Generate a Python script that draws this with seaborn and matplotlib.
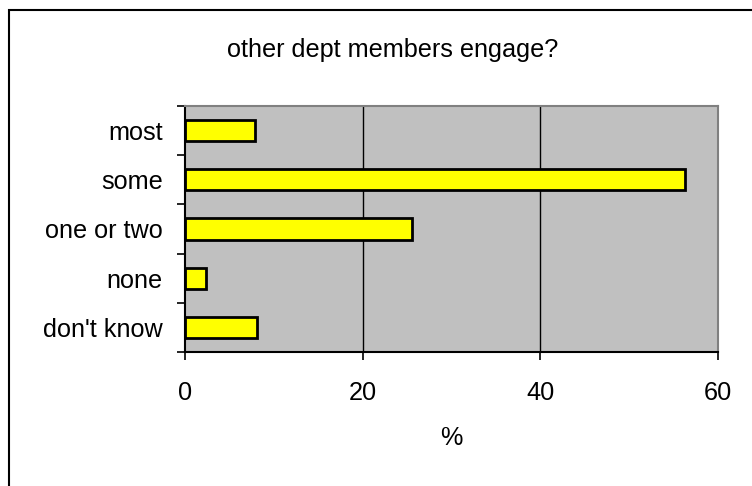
import matplotlib
matplotlib.use("Agg")
import matplotlib.pyplot as plt
import seaborn as sns
import pandas as pd
import numpy as np
from matplotlib.patches import Rectangle

categories = ["most", "some", "one or two", "none", "don't know"]
values = [7.9, 56.3, 25.6, 2.4, 8.1]
xticks = [0, 20, 40, 60]

sns.set_style("white")
plt.rcParams['font.family'] = ['Liberation Sans', 'DejaVu Sans']
plt.rcParams['text.color'] = 'black'
plt.rcParams['xtick.color'] = 'black'
plt.rcParams['ytick.color'] = 'black'
plt.rcParams['axes.labelcolor'] = 'black'

FS = 18.2

df = pd.DataFrame({"category": categories, "value": values})

fig = plt.figure(figsize=(7.52, 4.86), dpi=100)
ax = fig.add_axes([185/752, 1-352/486, (718-185)/752, (352-106)/486])

sns.barplot(data=df, x="value", y="category", orient="h", color="#FFFF00",
            edgecolor="black", linewidth=2, width=0.43, saturation=1, ax=ax)

ax.set_facecolor("#C0C0C0")
ax.set_xlim(0, 60)
ax.set_ylim(len(categories) - 0.5, -0.5)
ax.set_xticks(xticks)
ax.set_xticklabels([str(t) for t in xticks], fontsize=FS)
for t in xticks[1:-1]:
    ax.axvline(t, color="black", linewidth=1, zorder=0.5)
ax.set_axisbelow(True)

ax.set_yticks(range(len(categories)))
ax.set_yticklabels(categories, fontsize=FS)
ax.set_yticks(np.arange(-0.5, len(categories), 1), minor=True)
ax.tick_params(axis="y", which="major", left=True, length=0, pad=16)
ax.tick_params(axis="y", which="minor", left=True, length=6, width=1.2, color="black", direction="out")
ax.tick_params(axis="x", which="major", bottom=True, length=6, width=1.2, color="black", direction="out", pad=15)

for side in ["top", "right"]:
    ax.spines[side].set_color("#808080")
    ax.spines[side].set_linewidth(1.5)
    ax.spines[side].set_visible(True)
for side in ["left", "bottom"]:
    ax.spines[side].set_color("black")
    ax.spines[side].set_linewidth(1.5)
    ax.spines[side].set_visible(True)

ax.set_xlabel("%", fontsize=FS, labelpad=15)
ax.set_ylabel("")

fig.text(393/752, 1-50/486, "other dept members engage?", ha="center", va="center", fontsize=FS)

fig.add_artist(Rectangle((8.5/752, -0.1), 1.2, 1 - 9.5/486 + 0.1, transform=fig.transFigure,
                         fill=False, edgecolor="black", linewidth=1.5))

fig.savefig("out.png", dpi=100)
